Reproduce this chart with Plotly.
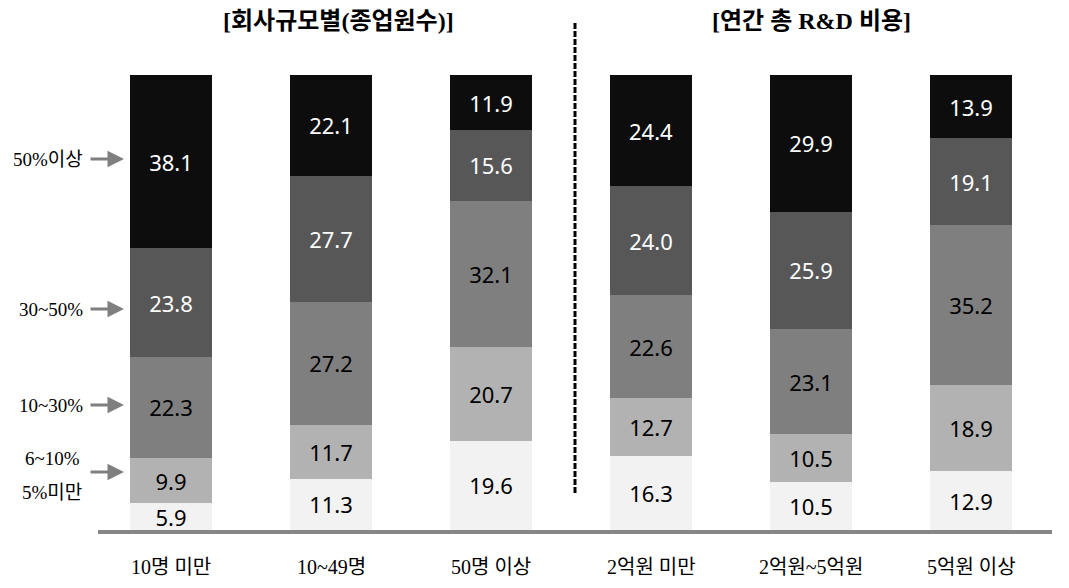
import plotly.graph_objects as go

categories = ["10명 미만", "10~49명", "50명 이상", "2억원 미만", "2억원~5억원", "5억원 이상"]
series_names = ["5%미만", "6~10%", "10~30%", "30~50%", "50%이상"]
v_under5 = [5.9, 11.3, 19.6, 16.3, 10.5, 12.9]
v_6to10 = [9.9, 11.7, 20.7, 12.7, 10.5, 18.9]
v_10to30 = [22.3, 27.2, 32.1, 22.6, 23.1, 35.2]
v_30to50 = [23.8, 27.7, 15.6, 24.0, 25.9, 19.1]
v_over50 = [38.1, 22.1, 11.9, 24.4, 29.9, 13.9]
group_titles = ["[회사규모별(종업원수)]", "[연간 총 R&D 비용]"]

series_values = [v_under5, v_6to10, v_10to30, v_30to50, v_over50]
colors = ["#f2f2f2", "#b2b2b2", "#7f7f7f", "#575757", "#0d0d0d"]
text_colors = ["#000000", "#000000", "#000000", "#ffffff", "#ffffff"]

W, H = 1069, 588
base_px = 530
px_per_unit = 4.55
first_center = 171
spacing = 160

x = list(range(len(categories)))
fig = go.Figure()
for name, vals, c, tc in zip(series_names, series_values, colors, text_colors):
    fig.add_trace(go.Bar(
        x=x, y=vals, name=name, marker=dict(color=c, line=dict(width=0)),
        width=82 / spacing,
        text=[f"{v:.1f}" for v in vals], textposition="inside",
        insidetextanchor="middle", textangle=0,
        textfont=dict(color=tc, size=22, family="Noto Sans, Open Sans, sans-serif"),
        hoverinfo="skip", showlegend=False,
    ))

xa = -first_center / spacing
xb = xa + W / spacing
ya = -(H - base_px) / px_per_unit
yb = base_px / px_per_unit

serif = "Liberation Serif, Noto Sans CJK KR, serif"

def px(xp):
    return xp / W

def py(yp):
    return 1 - yp / H

annotations = []
for i, cat in enumerate(categories):
    annotations.append(dict(x=i, xref="x", y=py(567), yref="paper", text=cat, showarrow=False,
                            font=dict(size=20, family=serif, color="#000"), xanchor="center", yanchor="middle"))

annotations.append(dict(x=px(338), xref="paper", y=py(21), yref="paper", text=f"<b>{group_titles[0]}</b>",
                        showarrow=False, xanchor="center", yanchor="middle",
                        font=dict(size=24, family=serif, color="#000")))
annotations.append(dict(x=px(811), xref="paper", y=py(21), yref="paper", text=f"<b>{group_titles[1]}</b>",
                        showarrow=False, xanchor="center", yanchor="middle",
                        font=dict(size=24, family=serif, color="#000")))

# left side labels
left_labels = [("50%이상", 85, 159), ("30~50%", 85, 309), ("10~30%", 85, 405)]
for t, xr, yy in left_labels:
    annotations.append(dict(x=px(xr), xref="paper", y=py(yy), yref="paper", text=t, showarrow=False,
                            xanchor="right", yanchor="middle", font=dict(size=19, family=serif, color="#000")))
annotations.append(dict(x=px(52), xref="paper", y=py(458), yref="paper", text="6~10%", showarrow=False,
                        xanchor="center", yanchor="middle", font=dict(size=19, family=serif, color="#000")))
annotations.append(dict(x=px(52), xref="paper", y=py(492), yref="paper", text="5%미만", showarrow=False,
                        xanchor="center", yanchor="middle", font=dict(size=19, family=serif, color="#000")))
for yy in [159, 309, 405, 472]:
    annotations.append(dict(x=px(124), xref="paper", y=py(yy), yref="paper", ax=-35, ay=0,
                            axref="pixel", ayref="pixel", text="", showarrow=True,
                            arrowhead=2, arrowsize=1.1, arrowwidth=3, arrowcolor="#7f7f7f"))

shapes = [
    dict(type="line", xref="paper", yref="paper", x0=px(98), x1=px(1052), y0=py(532), y1=py(532),
         line=dict(color="#868686", width=4)),
    dict(type="line", xref="paper", yref="paper", x0=px(575), x1=px(575), y0=py(23), y1=py(493),
         line=dict(color="#000000", width=3, dash="6px,2px")),
]

fig.update_layout(
    barmode="stack", width=W, height=H,
    margin=dict(l=0, r=0, t=0, b=0),
    paper_bgcolor="white", plot_bgcolor="white",
    xaxis=dict(range=[xa, xb], visible=False, fixedrange=True),
    yaxis=dict(range=[ya, yb], visible=False, fixedrange=True),
    uniformtext=dict(minsize=22, mode="show"),
    annotations=annotations, shapes=shapes,
)

fig.write_html("out.html", config={"displayModeBar": False})
